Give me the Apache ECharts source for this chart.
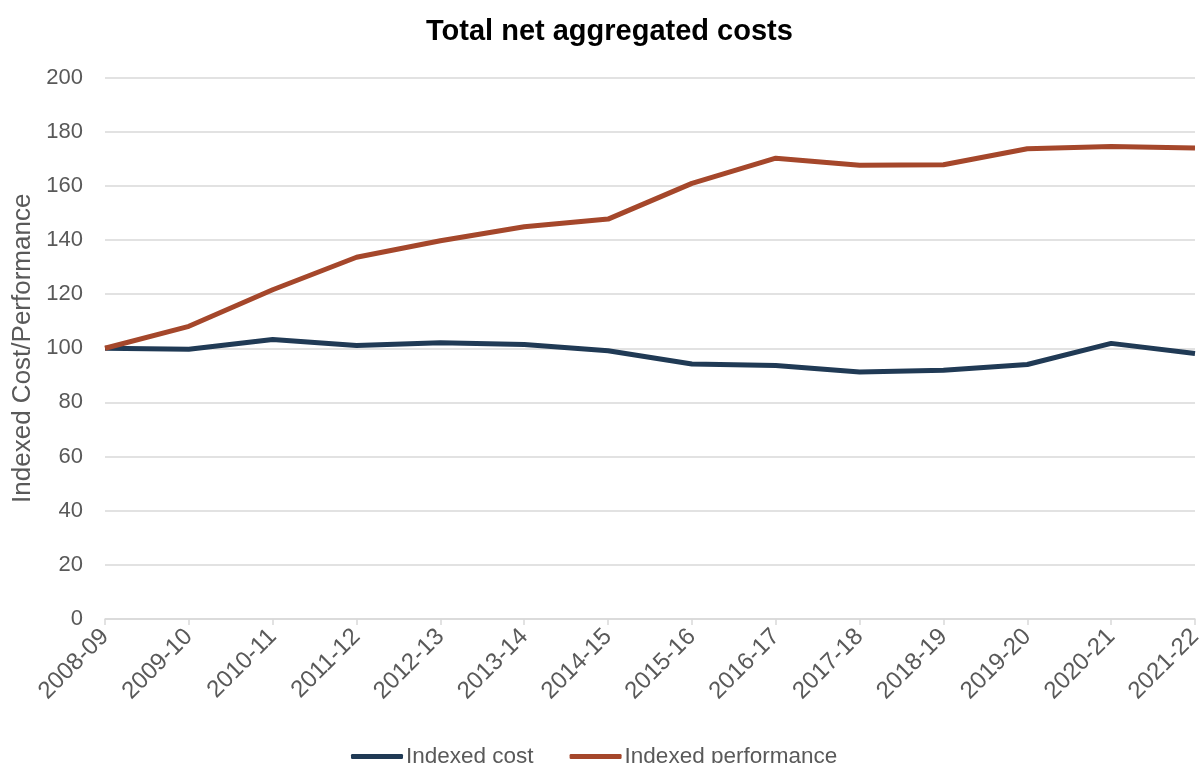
<!DOCTYPE html>
<html>
<head>
<meta charset="utf-8">
<script src="https://cdn.jsdelivr.net/npm/echarts@6/dist/echarts.min.js"></script>
<style>html,body{margin:0;padding:0;background:#fff}#c{width:1200px;height:763px}</style>
</head>
<body>
<div id="c"></div>
<script>
const categories = ['2008-09','2009-10','2010-11','2011-12','2012-13','2013-14','2014-15','2015-16','2016-17','2017-18','2018-19','2019-20','2020-21','2021-22'];
const indexedCost = [100, 99.6, 103.2, 101.0, 102.0, 101.4, 99.1, 94.2, 93.6, 91.2, 91.9, 94.0, 101.8, 98.1];
const indexedPerformance = [100, 108.1, 121.6, 133.6, 139.7, 144.9, 147.7, 160.9, 170.2, 167.6, 167.8, 173.7, 174.5, 174.0];
const yTicks = {min: 0, max: 200, interval: 20};

const chart = echarts.init(document.getElementById('c'), null, {renderer: 'canvas'});
const font = '"Liberation Sans", Arial, sans-serif';
chart.setOption({
  animation: false,
  title: {
    text: 'Total net aggregated costs',
    left: 421, top: 12,
    textStyle: {fontFamily: font, fontWeight: 'bold', fontSize: 29, color: '#000'}
  },
  legend: {
    top: 740, left: 346,
    itemWidth: 52, itemHeight: 5, itemGap: 36,
    icon: 'roundRect',
    textStyle: {fontFamily: font, fontSize: 22.5, color: '#595959', padding: [0,0,0,-2]},
    data: ['Indexed cost', 'Indexed performance']
  },
  grid: {left: 105, right: 5, top: 77.5, bottom: 144, containLabel: false, outerBoundsMode: 'none'},
  xAxis: {
    type: 'category', data: categories, boundaryGap: false,
    axisLine: {lineStyle: {color: '#d9d9d9', width: 1.5}},
    axisTick: {show: true, length: 6, lineStyle: {color: '#d9d9d9', width: 1.5}, alignWithLabel: true},
    axisLabel: {rotate: 45, margin: 14, fontFamily: font, fontSize: 24, color: '#595959', interval: 0}
  },
  yAxis: {
    type: 'value', min: yTicks.min, max: yTicks.max, interval: yTicks.interval,
    name: 'Indexed Cost/Performance', nameLocation: 'middle', nameGap: 69,
    nameTextStyle: {fontFamily: font, fontSize: 26, color: '#595959'},
    axisLine: {show: false}, axisTick: {show: false},
    splitLine: {lineStyle: {color: '#d9d9d9', width: 1.5}},
    axisLabel: {margin: 22, fontFamily: font, fontSize: 22, color: '#595959'}
  },
  series: [
    {name: 'Indexed cost', type: 'line', data: indexedCost, symbol: 'none',
     lineStyle: {color: '#203A55', width: 5}, itemStyle: {color: '#203A55'}},
    {name: 'Indexed performance', type: 'line', data: indexedPerformance, symbol: 'none',
     lineStyle: {color: '#A5472B', width: 5}, itemStyle: {color: '#A5472B'}}
  ]
});
</script>
</body>
</html>
